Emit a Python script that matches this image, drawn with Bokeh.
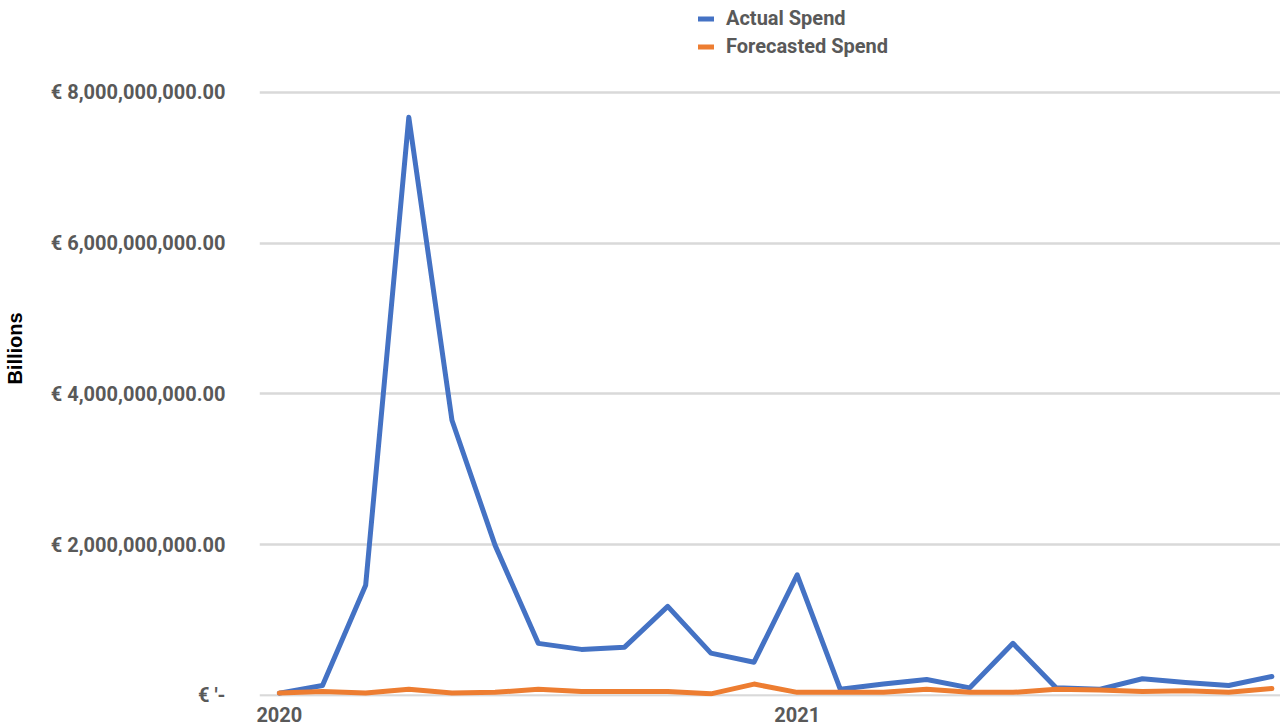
from bokeh.plotting import figure
from bokeh.models import FixedTicker, Legend, LegendItem, Range1d
from bokeh.embed import file_html
from bokeh.resources import INLINE

# Monthly spend, Jan 2020 - Dec 2021, in billions of euros
months = list(range(24))
actual_spend_bn = [0.03, 0.13, 1.46, 7.67, 3.65, 1.99, 0.69, 0.61, 0.64, 1.18, 0.56, 0.44,
                   1.60, 0.08, 0.15, 0.21, 0.10, 0.69, 0.10, 0.08, 0.22, 0.17, 0.13, 0.25]
forecast_spend_bn = [0.03, 0.05, 0.03, 0.08, 0.03, 0.04, 0.08, 0.05, 0.05, 0.05, 0.02, 0.15,
                     0.04, 0.04, 0.04, 0.08, 0.04, 0.04, 0.08, 0.07, 0.05, 0.06, 0.04, 0.09]
y_ticks = [0, 2e9, 4e9, 6e9, 8e9]
y_tick_labels = ["€ '-", "€ 2,000,000,000.00", "€ 4,000,000,000.00",
                 "€ 6,000,000,000.00", "€ 8,000,000,000.00"]
x_ticks = [0, 12]
x_tick_labels = ["2020", "2021"]

actual = [v * 1e9 for v in actual_spend_bn]
forecast = [v * 1e9 for v in forecast_spend_bn]

FONT = "Roboto"
TEXT_GREY = "#595959"

# the frame runs to the top of the canvas so the legend can sit above the 8bn gridline
p = figure(width=1280, height=726, output_backend="svg", toolbar_location=None,
           x_range=Range1d(-0.46, 23.2), y_range=Range1d(-0.015e9, 9.219e9),
           min_border_left=258, min_border_right=0, min_border_top=0, min_border_bottom=30)
p.outline_line_color = None
p.background_fill_color = "white"
p.border_fill_color = "white"

r_actual = p.line(months, actual, line_color="#4472C4", line_width=5, line_join="round", line_cap="round")
r_forecast = p.line(months, forecast, line_color="#ED7D31", line_width=5, line_join="round", line_cap="round")

# y axis
p.yaxis.ticker = FixedTicker(ticks=y_ticks)
p.yaxis.major_label_overrides = {t: l for t, l in zip(y_ticks, y_tick_labels)}
p.yaxis.axis_line_color = None
p.yaxis.major_tick_line_color = None
p.yaxis.minor_tick_line_color = None
p.yaxis.major_label_standoff = 28
p.yaxis.major_label_text_font = FONT
p.yaxis.major_label_text_font_style = "bold"
p.yaxis.major_label_text_font_size = "20px"
p.yaxis.major_label_text_color = TEXT_GREY
p.yaxis.axis_label = "Billions"
p.yaxis.axis_label_text_font = "Liberation Sans"
p.yaxis.axis_label_text_font_style = "bold"
p.yaxis.axis_label_text_font_size = "20px"
p.yaxis.axis_label_text_color = "black"
p.yaxis.axis_label_standoff = 22

# x axis
p.xaxis.ticker = FixedTicker(ticks=x_ticks)
p.xaxis.major_label_overrides = {t: l for t, l in zip(x_ticks, x_tick_labels)}
p.xaxis.axis_line_color = None
p.xaxis.major_tick_line_color = None
p.xaxis.minor_tick_line_color = None
p.xaxis.major_label_standoff = 4
p.xaxis.major_label_text_font = FONT
p.xaxis.major_label_text_font_style = "bold"
p.xaxis.major_label_text_font_size = "20px"
p.xaxis.major_label_text_color = TEXT_GREY

# grid
p.xgrid.grid_line_color = None
p.ygrid.ticker = FixedTicker(ticks=y_ticks)
p.ygrid.grid_line_color = "#d9d9d9"
p.ygrid.grid_line_width = 2.5

legend = Legend(items=[LegendItem(label="Actual Spend", renderers=[r_actual]),
                       LegendItem(label="Forecasted Spend", renderers=[r_forecast])],
                location=(439, 638), orientation="vertical",
                border_line_color=None, background_fill_alpha=0,
                padding=0, margin=0, spacing=4,
                glyph_width=16, glyph_height=21, label_height=21, label_standoff=12,
                label_text_font=FONT, label_text_font_style="bold",
                label_text_font_size="20px", label_text_color=TEXT_GREY)
p.add_layout(legend, "center")

open("out.html", "w").write(file_html(p, INLINE))
